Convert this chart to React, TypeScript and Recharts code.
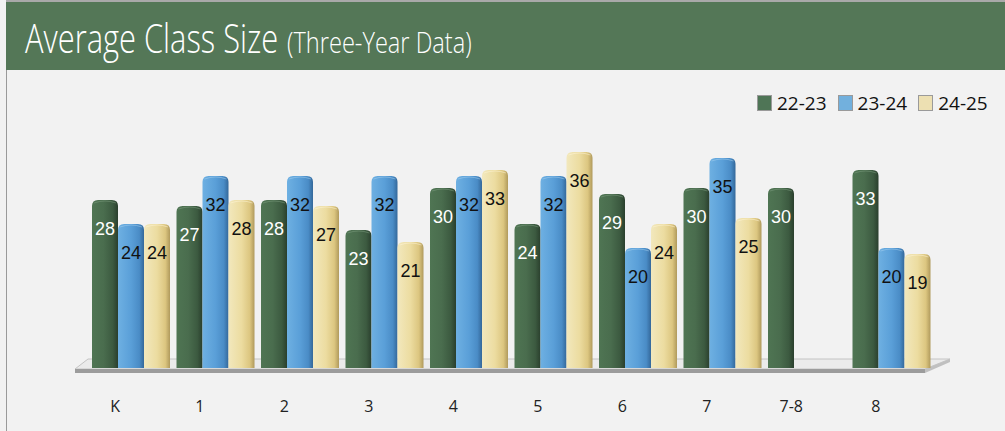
import React from 'react';
import { BarChart, Bar, XAxis, YAxis, LabelList, Customized } from 'recharts';

const categories = ['K', '1', '2', '3', '4', '5', '6', '7', '7-8', '8'];
const y2223 = [28, 27, 28, 23, 30, 24, 29, 30, 30, 33];
const y2324: (number | null)[] = [24, 32, 32, 32, 32, 32, 20, 35, null, 20];
const y2425: (number | null)[] = [24, 28, 27, 21, 33, 36, 24, 25, null, 19];
const seriesNames = ['22-23', '23-24', '24-25'];
const seriesKeys = ['a', 'b', 'c'];

const data = categories.map((c, i) => ({ cat: c, a: y2223[i], b: y2324[i], c: y2425[i] }));

const legendColors = ['#4f7556', '#72b0dd', '#ede0b2'];
const labelColors = ['#ffffff', '#111111', '#111111'];

const makeShape = (gid: string, edge: string) => (p: any) => {
  const { x, y, width: w, height: h } = p;
  if (!h || h <= 0) return <g />;
  const r = 6;
  const d = `M${x},${y + h} L${x},${y + r} Q${x},${y} ${x + r},${y} L${x + w - r},${y} Q${x + w},${y} ${x + w},${y + r} L${x + w},${y + h} Z`;
  return (
    <g>
      <path d={d} fill={`url(#${gid})`} />
      <path d={`M${x + 2},${y + 3} Q${x + w / 2},${y - 1} ${x + w - 2},${y + 3}`} stroke={edge} strokeWidth={1} fill="none" opacity={0.5} />
    </g>
  );
};

const shapes = [
  makeShape('gGreen', '#7f9f82'),
  makeShape('gBlue', '#a8d2f0'),
  makeShape('gYellow', '#fff6d8'),
];

const Floor = (props: any) => {
  const off = props.offset || { left: 89, top: 128, width: 845, height: 240 };
  const L = off.left;
  const R = off.left + off.width;
  const B = off.top + off.height;
  const top = [
    [L - 1, B - 9],
    [R + 16, B - 9],
    [R - 9, B + 1],
    [L - 14, B + 1],
  ];
  const front = [
    [L - 14, B + 1],
    [R - 9, B + 1],
    [R - 9, B + 5],
    [L - 14, B + 5],
  ];
  const side = [
    [R - 9, B + 1],
    [R + 16, B - 9],
    [R + 16, B - 6],
    [R - 9, B + 5],
  ];
  const pts = (a: number[][]) => a.map((q) => q.join(',')).join(' ');
  return (
    <g>
      <polygon points={pts(top)} fill="#ebebeb" stroke="#c4c4c4" strokeWidth={1} />
      <polygon points={pts(front)} fill="#9c9c9c" />
      <polygon points={pts(side)} fill="#c0c0c0" />
    </g>
  );
};

const Tick = (props: any) => {
  const { x, y, payload } = props;
  return (
    <text x={x - 16} y={y + 36} textAnchor="middle" fontFamily="'Open Sans', sans-serif" fontSize={16} fill="#222">
      {payload.value}
    </text>
  );
};

const LegendBox = () => (
  <div style={{ position: 'absolute', left: 757, top: 91, display: 'flex', alignItems: 'center', fontFamily: "'Open Sans', sans-serif", fontSize: 19, color: '#111', lineHeight: '24px' }}>
    {seriesNames.map((n, i) => (
      <div key={n} style={{ display: 'flex', alignItems: 'center', marginRight: i < 2 ? 11 : 0 }}>
        <span style={{ display: 'inline-block', width: 13, height: 14, background: legendColors[i], border: '1px solid #9a9a9a', marginRight: 5 }} />
        <span>{n}</span>
      </div>
    ))}
  </div>
);

export default function App() {
  return (
    <div style={{ position: 'fixed', left: 0, top: 0, width: 1005, height: 431, background: '#f2f2f2', overflow: 'hidden' }}>
      <svg width={1005} height={72} style={{ position: 'absolute', left: 0, top: 0 }}>
        <rect x={6} y={0} width={999} height={2} fill="#a9a9a9" />
        <rect x={6} y={2} width={999} height={68} fill="#547757" />
        <g transform="translate(25,53) scale(0.767,1)">
          <text x={0} y={0} fontFamily="'Open Sans', sans-serif" fontWeight={300} fontSize={41} fill="#ffffff" textLength={330} lengthAdjust="spacingAndGlyphs">
            Average Class Size
          </text>
        </g>
        <g transform="translate(287,53) scale(0.81,1)">
          <text x={0} y={0} fontFamily="'Open Sans', sans-serif" fontWeight={300} fontSize={29} fill="#ffffff" textLength={228} lengthAdjust="spacingAndGlyphs">
            (Three-Year Data)
          </text>
        </g>
      </svg>
      <div style={{ position: 'absolute', left: 6, top: 70, width: 1, height: 361, background: '#9a9a9a' }} />
      <div style={{ position: 'absolute', left: 0, top: 0 }}>
        <BarChart width={1005} height={431} data={data} margin={{ top: 128, right: 71, bottom: 33, left: 89 }} barSize={26} barGap={0}>
          <defs>
            <linearGradient id="gGreen" x1="0" y1="0" x2="1" y2="0">
              <stop offset="0" stopColor="#4f7553" />
              <stop offset="0.45" stopColor="#4a6d4e" />
              <stop offset="0.8" stopColor="#3c5a40" />
              <stop offset="1" stopColor="#2a3f2d" />
            </linearGradient>
            <linearGradient id="gBlue" x1="0" y1="0" x2="1" y2="0">
              <stop offset="0" stopColor="#6eb0e2" />
              <stop offset="0.5" stopColor="#5a9fd8" />
              <stop offset="0.82" stopColor="#4a8cc6" />
              <stop offset="1" stopColor="#34689a" />
            </linearGradient>
            <linearGradient id="gYellow" x1="0" y1="0" x2="1" y2="0">
              <stop offset="0" stopColor="#f2e8bd" />
              <stop offset="0.5" stopColor="#ecdca0" />
              <stop offset="0.82" stopColor="#dcc680" />
              <stop offset="1" stopColor="#b09a5c" />
            </linearGradient>
          </defs>
          <Customized component={Floor} />
          <XAxis dataKey="cat" axisLine={false} tickLine={false} tick={<Tick />} interval={0} height={30} />
          <YAxis hide domain={[0, 40]} />
          {seriesKeys.map((k, i) => (
            <Bar key={k} dataKey={k} name={seriesNames[i]} fill={legendColors[i]} shape={shapes[i]} isAnimationActive={false}>
              <LabelList dataKey={k} position="insideTop" offset={22} fill={labelColors[i]} fontFamily="'Liberation Sans', Arial, sans-serif" fontSize={18} />
            </Bar>
          ))}
        </BarChart>
      </div>
      <LegendBox />
    </div>
  );
}
